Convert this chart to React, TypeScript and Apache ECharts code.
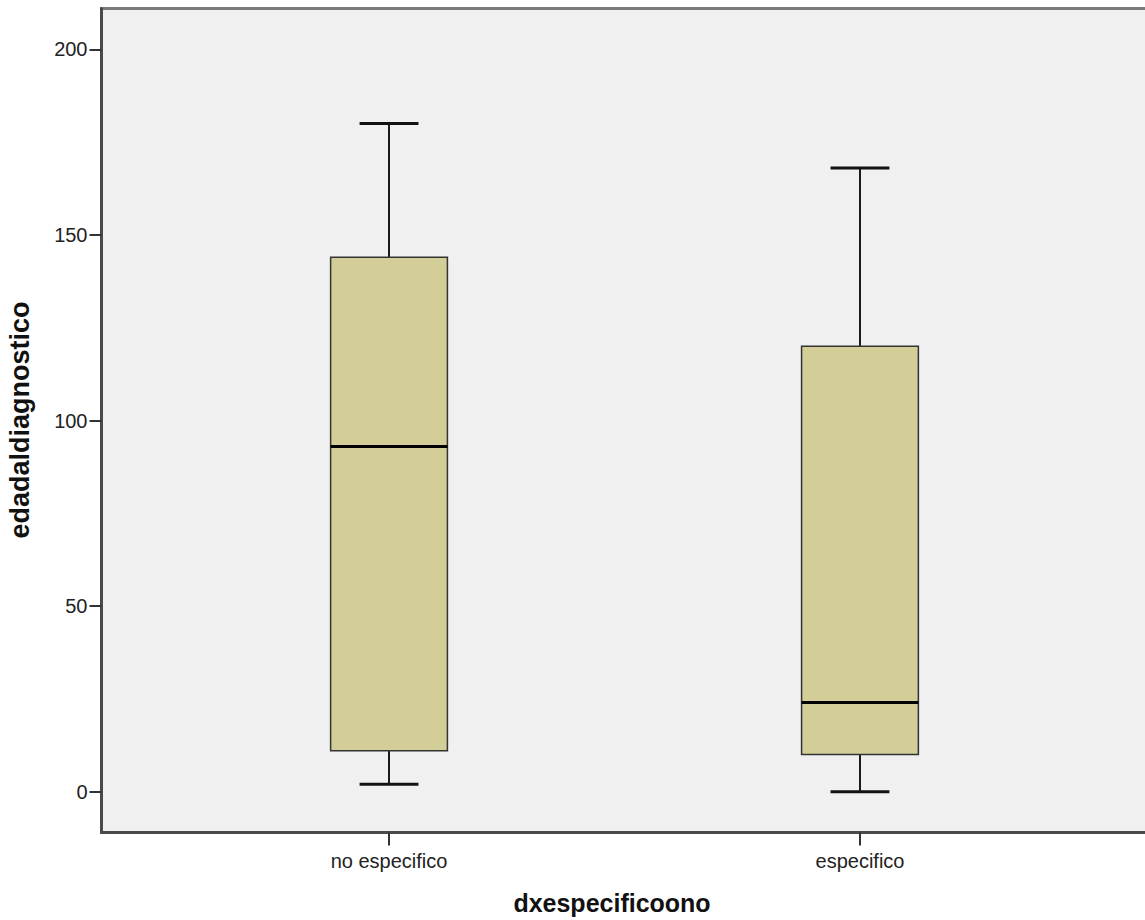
import React, { useEffect, useRef } from "react";
import * as echarts from "echarts";

const categories = ["no especifico", "especifico"];
// [index, min, Q1, median, Q3, max]
const boxValues = [
  [0, 2, 11, 93, 144, 180],
  [1, 0, 10, 24, 120, 168],
];
const yTicks = [0, 50, 100, 150, 200];
const xTicks = [0, 1];
const yTitle = "edadaldiagnostico";
const xTitle = "dxespecificoono";

export default function App() {
  const ref = useRef<HTMLDivElement>(null);
  useEffect(() => {
    if (!ref.current) return;
    const chart = echarts.init(ref.current, null, { renderer: "svg" });
    const font = "'Liberation Sans', Arial, sans-serif";
    chart.setOption({
      animation: false,
      backgroundColor: "#ffffff",
      grid: {
        left: 101.5,
        top: 8.5,
        right: 12.5,
        bottom: 87.5,
        show: true,
        backgroundColor: "#f0f0f0",
        borderColor: "#7a7a7a",
        borderWidth: 3,
      },
      xAxis: {
        type: "value",
        min: -0.6105,
        max: 1.6105,
        splitLine: { show: false },
        axisLine: { show: true, onZero: false, lineStyle: { color: "#4a4a4a", width: 3 } },
        axisTick: { show: true, customValues: xTicks, length: 13, lineStyle: { color: "#333", width: 2 } },
        axisLabel: {
          customValues: xTicks,
          formatter: (v: number) => categories[Math.round(v)] ?? "",
          color: "#222",
          fontSize: 20,
          fontFamily: font,
          margin: 18,
        },
      },
      yAxis: {
        type: "value",
        min: -11,
        max: 211,
        splitLine: { show: false },
        axisLine: { show: true, onZero: false, lineStyle: { color: "#4a4a4a", width: 3 } },
        axisTick: { show: true, customValues: yTicks, length: 12, lineStyle: { color: "#333", width: 2 } },
        axisLabel: {
          customValues: yTicks,
          color: "#222",
          fontSize: 20,
          fontFamily: font,
          margin: 14,
        },
      },
      graphic: [
        {
          type: "text",
          x: 20,
          y: 420,
          rotation: Math.PI / 2,
          style: {
            text: yTitle,
            font: `bold 27px ${font}`,
            fill: "#111",
            textAlign: "center",
            textVerticalAlign: "middle",
          },
        },
        {
          type: "text",
          x: 612,
          y: 903,
          style: {
            text: xTitle,
            font: `bold 25px ${font}`,
            fill: "#111",
            textAlign: "center",
            textVerticalAlign: "middle",
          },
        },
      ],
      series: [
        {
          type: "custom",
          data: boxValues,
          encode: { x: 0, y: [1, 2, 3, 4, 5] },
          renderItem: (params: any, api: any) => {
            const x = api.value(0);
            const mn = api.value(1);
            const q1 = api.value(2);
            const md = api.value(3);
            const q3 = api.value(4);
            const mx = api.value(5);
            const halfBox = 0.124;
            const halfCap = 0.0625;
            const pMin = api.coord([x, mn]);
            const pQ1 = api.coord([x, q1]);
            const pMd = api.coord([x, md]);
            const pQ3 = api.coord([x, q3]);
            const pMx = api.coord([x, mx]);
            const left = api.coord([x - halfBox, q1])[0];
            const right = api.coord([x + halfBox, q1])[0];
            const capL = api.coord([x - halfCap, q1])[0];
            const capR = api.coord([x + halfCap, q1])[0];
            const cx = pMd[0];
            return {
              type: "group",
              children: [
                {
                  type: "line",
                  shape: { x1: cx, y1: pMx[1], x2: cx, y2: pQ3[1] },
                  style: { stroke: "#1a1a1a", lineWidth: 2 },
                },
                {
                  type: "line",
                  shape: { x1: cx, y1: pQ1[1], x2: cx, y2: pMin[1] },
                  style: { stroke: "#1a1a1a", lineWidth: 2 },
                },
                {
                  type: "line",
                  shape: { x1: capL, y1: pMx[1], x2: capR, y2: pMx[1] },
                  style: { stroke: "#111", lineWidth: 3 },
                },
                {
                  type: "line",
                  shape: { x1: capL, y1: pMin[1], x2: capR, y2: pMin[1] },
                  style: { stroke: "#111", lineWidth: 3 },
                },
                {
                  type: "rect",
                  shape: { x: left, y: pQ3[1], width: right - left, height: pQ1[1] - pQ3[1] },
                  style: { fill: "#d3ce98", stroke: "#333", lineWidth: 1.5 },
                },
                {
                  type: "line",
                  shape: { x1: left, y1: pMd[1], x2: right, y2: pMd[1] },
                  style: { stroke: "#000", lineWidth: 3 },
                },
              ],
            };
          },
        },
      ],
    });
    return () => chart.dispose();
  }, []);
  return (
    <div style={{ position: "absolute", left: 0, top: 0, width: 1145, height: 920, overflow: "hidden" }}>
      <div ref={ref} style={{ width: 1160, height: 920 }} />
    </div>
  );
}
